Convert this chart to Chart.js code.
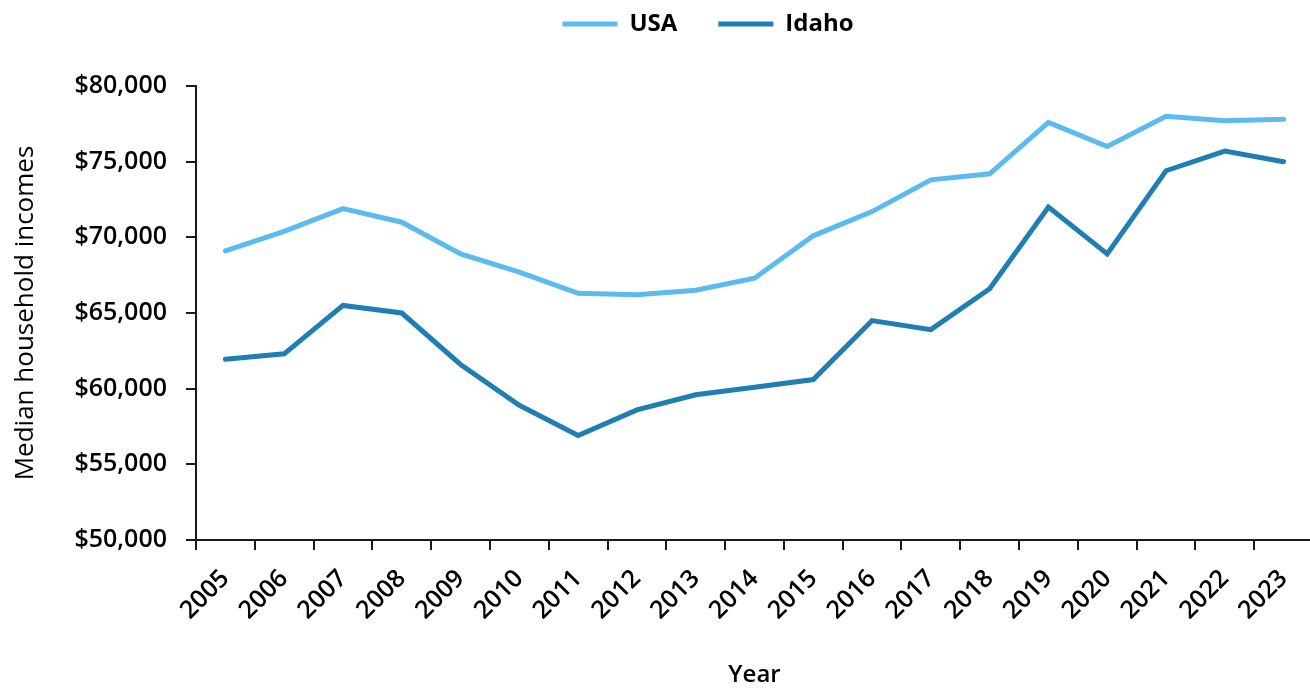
<!DOCTYPE html>
<html>
<head>
<meta charset="utf-8">
<script src="https://cdn.jsdelivr.net/npm/chart.js@4"></script>
<style>
html,body{margin:0;padding:0;overflow:hidden;background:#fff;width:1310px;height:690px}
#wrap{position:absolute;left:0;top:0;width:1416px;height:690px}
</style>
</head>
<body>
<div id="wrap"><canvas id="c" width="1416" height="690"></canvas></div>
<script>
const years = ['2005','2006','2007','2008','2009','2010','2011','2012','2013','2014','2015','2016','2017','2018','2019','2020','2021','2022','2023'];
const usaIncome = [69100,70400,71900,71000,68900,67700,66300,66200,66500,67300,70100,71700,73800,74200,77600,76000,78000,77700,77800];
const idahoIncome = [61950,62300,65500,65000,61600,58900,56900,58600,59600,60100,60600,64500,63900,66600,72000,68900,74400,75700,75000];
const yMin = 50000, yMax = 80000, yStep = 5000;
const seriesNames = ['USA','Idaho'];
const seriesColors = ['#5BBAEE','#1F7EB2'];
const xTitle = 'Year';
const yTitle = 'Median household incomes';

const FONT = '"Open Sans", "Noto Sans", sans-serif';
const AXIS = '#1a1a1a';

new Chart(document.getElementById('c'), {
  type: 'line',
  data: {
    labels: years,
    datasets: [
      { label: seriesNames[0], data: usaIncome, borderColor: seriesColors[0], backgroundColor: seriesColors[0],
        borderWidth: 5, pointRadius: 0, tension: 0, borderCapStyle: 'round', yAxisID: 'y' },
      { label: seriesNames[1], data: idahoIncome, borderColor: seriesColors[1], backgroundColor: seriesColors[1],
        borderWidth: 5, pointRadius: 0, tension: 0, borderCapStyle: 'round', yAxisID: 'y' }
    ]
  },
  options: {
    responsive: false,
    animation: false,
    layout: { padding: { top: -29, left: 0, right: 0, bottom: 0 } },
    plugins: {
      tooltip: { enabled: false },
      legend: {
        display: true,
        position: 'top',
        labels: {
          usePointStyle: true,
          pointStyle: 'line',
          pointStyleWidth: 55,
          padding: 41,
          color: '#000',
          font: { family: FONT, size: 24, weight: 'bold' }
        }
      },
      subtitle: {
        display: true,
        text: '',
        position: 'top',
        weight: 500,
        padding: { top: 39, bottom: 0 },
        font: { family: FONT, size: 1, lineHeight: 1 }
      }
    },
    scales: {
      x: {
        type: 'category',
        offset: true,
        grid: { offset: true, drawOnChartArea: false, drawTicks: true, tickLength: 10, color: AXIS, lineWidth: 2 },
        border: { display: true, color: AXIS, width: 2 },
        ticks: { autoSkip: false, maxRotation: 45, minRotation: 45, padding: 14, color: '#000',
          font: { family: FONT, size: 25, weight: '600' } },
        title: { display: true, text: xTitle, color: '#000', padding: { top: 0, bottom: 0 },
          font: { family: FONT, size: 24, weight: '600' } },
        afterFit: (s) => { s.height = 150; }
      },
      y: {
        type: 'linear',
        position: 'left',
        min: yMin, max: yMax,
        grid: { drawOnChartArea: false, drawTicks: true, tickLength: 10, color: AXIS, lineWidth: 2 },
        border: { display: true, color: AXIS, width: 2 },
        ticks: { stepSize: yStep, padding: 19, color: '#000',
          font: { family: FONT, size: 25, weight: '600' },
          callback: (v) => '$' + Number(v).toLocaleString('en-US') },
        title: { display: true, text: yTitle, color: '#000', padding: { top: 10, bottom: 0 },
          font: { family: FONT, size: 26, weight: '400' } },
        afterFit: (s) => { s.width = 196; }
      },
      yRightSpacer: {
        type: 'linear',
        axis: 'y',
        position: 'right',
        display: true,
        grid: { display: false, drawTicks: false },
        border: { display: false },
        ticks: { display: false },
        afterFit: (s) => { s.width = 103; }
      }
    }
  }
});
</script>
</body>
</html>
